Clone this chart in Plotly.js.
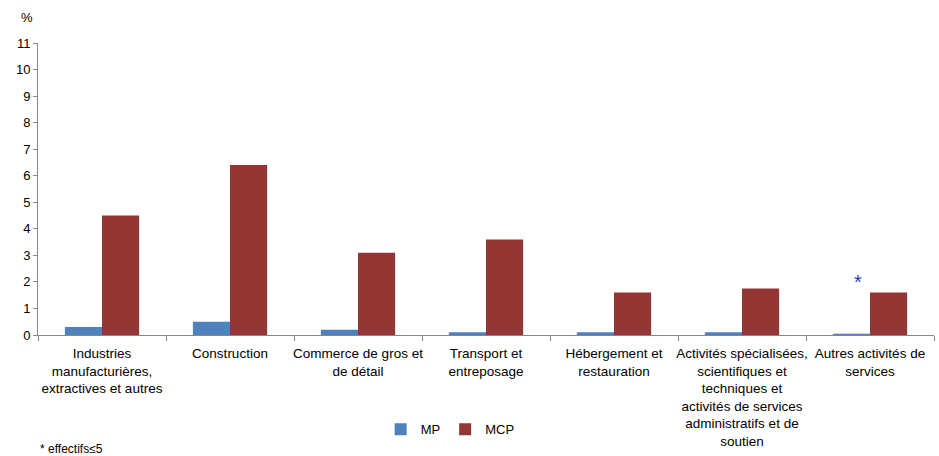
<!DOCTYPE html>
<html>
<head>
<meta charset="utf-8">
<script src="https://cdn.plot.ly/plotly-3.0.1.min.js"></script>
<style>html,body{margin:0;padding:0;background:#fff;}#chart{width:939px;height:456px;}</style>
</head>
<body>
<div id="chart"></div>
<script>
const categories = [
  "Industries<br>manufacturières,<br>extractives et autres",
  "Construction",
  "Commerce de gros et<br>de détail",
  "Transport et<br>entreposage",
  "Hébergement et<br>restauration",
  "Activités spécialisées,<br>scientifiques et<br>techniques et<br>activités de services<br>administratifs et de<br>soutien",
  "Autres activités de<br>services"
];
const mpValues = [0.3, 0.5, 0.2, 0.1, 0.1, 0.1, 0.05];
const mcpValues = [4.5, 6.4, 3.1, 3.6, 1.6, 1.75, 1.6];
const tickValues = [0,1,2,3,4,5,6,7,8,9,10,11];

const fam = "Liberation Sans, Arial, sans-serif";
const font = {family: fam, size: 13, color: "#000"};
const xfont = {family: fam, size: 13.5, color: "#000"};

const traces = [
  {type: "bar", name: "MP", x: categories, y: mpValues, marker: {color: "#4F81BD"}},
  {type: "bar", name: "MCP", x: categories, y: mcpValues, marker: {color: "#943634"}}
];

const layout = {
  width: 939, height: 456,
  margin: {l: 38, r: 5, t: 43, b: 121},
  paper_bgcolor: "#fff", plot_bgcolor: "#fff",
  font: font,
  barmode: "group",
  bargap: 0.42,
  bargroupgap: 0,
  showlegend: true,
  legend: {orientation: "h", x: 0.46, xanchor: "center", y: -0.272, yanchor: "top", font: font, itemwidth: 30, tracegroupgap: 0},
  xaxis: {
    type: "category",
    showline: true, linecolor: "#868686", linewidth: 1,
    ticks: "outside", tickson: "boundaries", ticklen: 5, tickcolor: "#868686",
    ticklabelstandoff: 6,
    showgrid: false, zeroline: false,
    tickfont: xfont, tickangle: 0
  },
  yaxis: {
    range: [0, 11],
    tickvals: tickValues,
    showline: true, linecolor: "#868686", linewidth: 1,
    ticks: "outside", ticklen: 4, tickcolor: "#868686",
    showgrid: false, zeroline: false,
    tickfont: font
  },
  annotations: [
    {xref: "paper", yref: "paper", x: -0.012, y: 1.055, text: "%", showarrow: false, xanchor: "center", yanchor: "bottom", font: font},
    {xref: "x", yref: "y", x: categories[6], y: 2.0, xshift: -12, text: "*", showarrow: false, font: {family: fam, size: 20, color: "#1F3FB0"}},
    {xref: "paper", yref: "paper", x: 0.0, y: -0.39, xanchor: "left", yanchor: "middle", text: "* effectifs≤5", showarrow: false, font: {family: fam, size: 12, color: "#000"}}
  ]
};

Plotly.newPlot("chart", traces, layout, {displayModeBar: false, staticPlot: true});
</script>
</body>
</html>
